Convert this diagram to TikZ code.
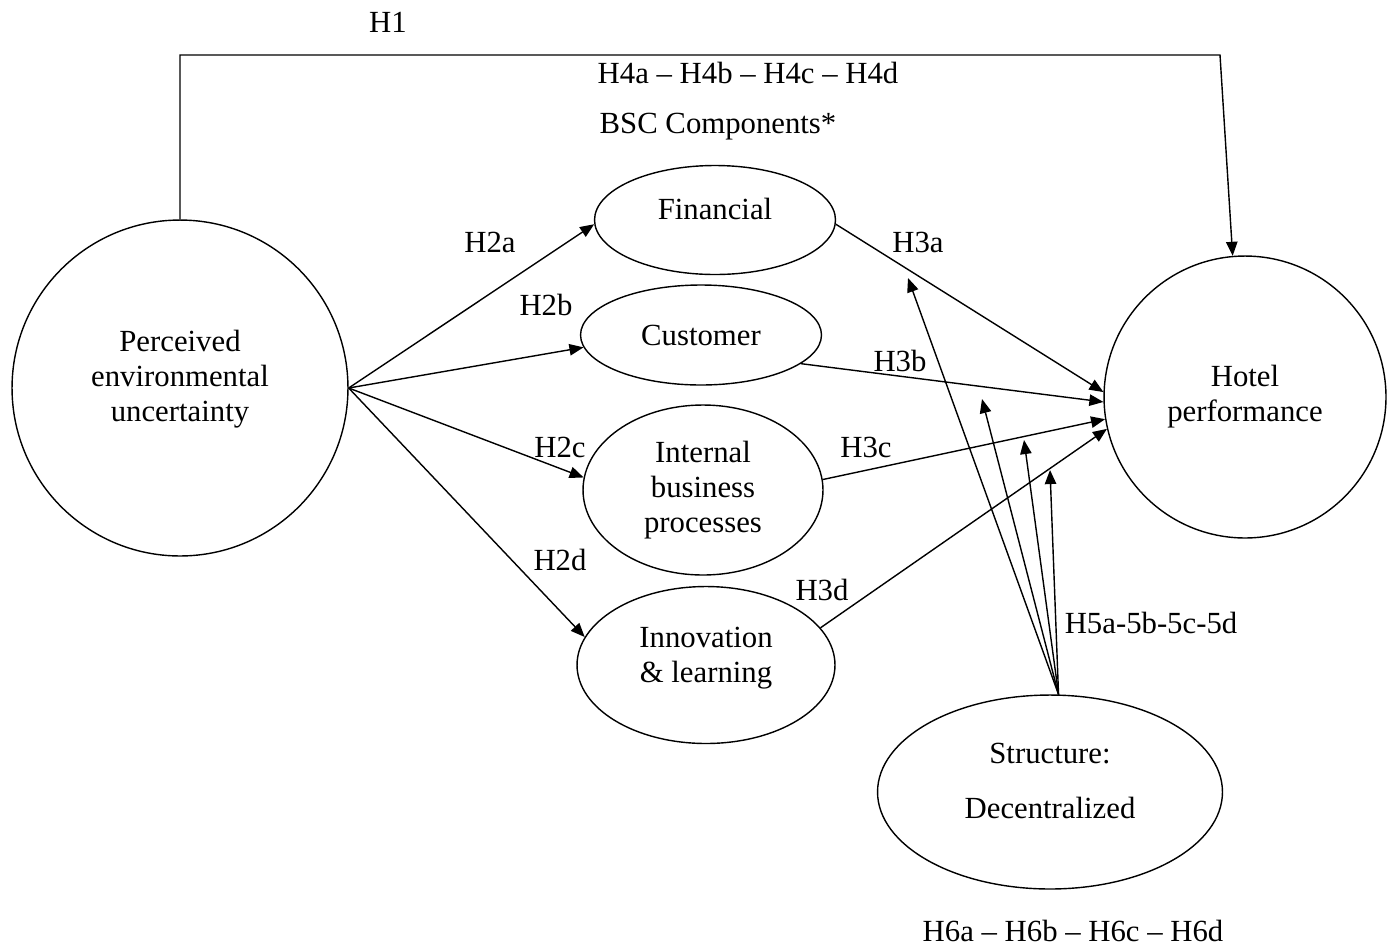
\documentclass[tikz,border=0pt]{standalone}
\usepackage{fontspec}
\setmainfont{Liberation Serif}
\usetikzlibrary{shapes.geometric, arrows.meta, positioning}

\begin{document}
\begin{tikzpicture}[
    x=0.02cm, y=-0.02cm,
    font=\fontsize{17.5}{20}\selectfont,
    construct/.style={ellipse, draw, line width=0.8pt, inner sep=0pt, align=center},
    arrow/.style={-{Triangle[length=8pt, width=6.5pt]}, line width=0.8pt}
]
\useasboundingbox (0,0) rectangle (1388,951);

% Constructs
\node[construct, minimum width=6.72cm, minimum height=6.72cm, text depth=0.5cm] (peu) at (180,388) {Perceived\\environmental\\uncertainty};
\node[construct, minimum width=4.82cm, minimum height=2.18cm, text depth=0.45cm] (fin) at (715,220) {Financial};
\node[construct, minimum width=4.82cm, minimum height=2.0cm] (cust) at (701,335) {Customer};
\node[construct, minimum width=4.8cm, minimum height=3.4cm] (ibp) at (703,490) {Internal\\business\\processes};
\node[construct, minimum width=5.16cm, minimum height=3.14cm, text depth=0.4cm] (inn) at (706,665) {Innovation\\\& learning};
\node[construct, minimum width=5.64cm, minimum height=5.64cm] (hotel) at (1245,397) {Hotel\\performance};
\node[construct, minimum width=6.9cm, minimum height=3.88cm, text depth=0.45cm] (str) at (1050,792) {Structure:\\[0.38cm]Decentralized};

% Labels
\node (h1) at (388,22) {H1};
\node (h4) at (748,73) {H4a – H4b – H4c – H4d};
\node (bsc) at (718,127) {BSC Components*};
\node (h2a) at (490,242) {H2a};
\node (h2b) at (546,305) {H2b};
\node (h2c) at (560,447) {H2c};
\node (h2d) at (560,560) {H2d};
\node (h3a) at (918,242) {H3a};
\node (h3b) at (900,361) {H3b};
\node (h3c) at (866,447) {H3c};
\node (h3d) at (822,590) {H3d};
\node (h5) at (1151,623) {H5a-5b-5c-5d};
\node (h6) at (1073,931) {H6a – H6b – H6c – H6d};

% Moderation targets
\coordinate (m3a) at (908,278);
\coordinate (m3b) at (982,399);
\coordinate (m3c) at (1024,440);
\coordinate (m3d) at (1050,470);
\coordinate (h1turn) at (1220,55);

% Arrows
\draw[arrow] (peu.north) |- (h1turn) -- (hotel.95);
\draw[arrow] (peu.east) -- (fin.182);
\draw[arrow] (peu.east) -- (cust.186);
\draw[arrow] (peu.east) -- (ibp.174);
\draw[arrow] (peu.east) -- (inn.167);
\draw[arrow] (fin.-2) -- (hotel.178.4);
\draw[arrow] (cust.-16) -- (hotel.182.8);
\draw[arrow] (ibp.5) -- (hotel.189.4);
\draw[arrow] (inn.18) -- (hotel.193.5);
\draw[arrow] (str.85) -- (m3a);
\draw[arrow] (str.85) -- (m3b);
\draw[arrow] (str.85) -- (m3c);
\draw[arrow] (str.85) -- (m3d);

\end{tikzpicture}
\end{document}
